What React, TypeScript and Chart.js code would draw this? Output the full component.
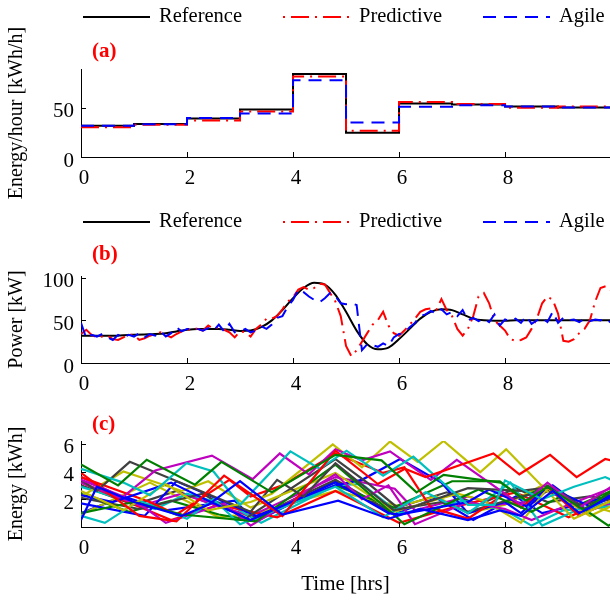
import React, { useEffect, useRef } from 'react';
import { Chart, registerables } from 'chart.js';

Chart.register(...registerables);

const FONT = "'Liberation Serif', 'DejaVu Serif', serif";

// ---------- shared ----------
const LEGEND_LABELS = ['Reference', 'Predictive', 'Agile'];
const PANEL_LABELS = ['(a)', '(b)', '(c)'];
const X_TICKS = [0, 2, 4, 6, 8];
const X_TITLE = 'Time [hrs]';

// ---------- panel (a): hourly energy ----------
const HOURS = [0, 1, 2, 3, 4, 5, 6, 7, 8, 9, 10];
const energyRef = [31.5, 33.5, 39, 48, 84, 24.5, 54, 53, 51, 50, 50];
const energyPred = [30, 32.5, 37, 46, 81.5, 26.5, 55.7, 53.5, 49.8, 51, 51];
const energyAgile = [31.5, 33, 39.5, 44, 77.5, 35, 50.7, 52.4, 51, 50, 50];
const A_Y_TICKS = [0, 50];
const A_Y_TITLE = 'Energy/hour [kWh/h]';

// ---------- panel (b): power ----------
const REF_TIME = [
  0, 0.2, 0.4, 0.6, 0.8, 1, 1.2, 1.4, 1.6, 1.8, 2, 2.2, 2.4, 2.6, 2.8, 3, 3.2, 3.4, 3.6, 3.8,
  4, 4.2, 4.4, 4.6, 4.8, 5, 5.2, 5.4, 5.6, 5.8, 6, 6.2, 6.4, 6.6, 6.8, 7, 7.2, 7.4, 7.6, 7.8,
  8, 8.2, 8.4, 8.6, 8.8, 9, 9.2, 9.4, 9.6, 9.8, 10,
];
const powerRef = [
  32, 32, 32, 32, 32.5, 33, 33.5, 34, 35, 37, 39, 40, 40, 40, 39, 37.5, 38, 42, 50, 62,
  76, 88, 94, 92, 80, 60, 38, 22, 16, 18, 28, 40, 52, 60, 63, 62, 57, 52, 50, 49.5,
  49.5, 50, 50, 50, 50, 50, 50, 50, 50, 50, 50,
];
const POWER_TIME = [
  0, 0.1, 0.2, 0.3, 0.4, 0.5, 0.6, 0.7, 0.8, 0.9,
  1, 1.1, 1.2, 1.3, 1.4, 1.5, 1.6, 1.7, 1.8, 1.9,
  2, 2.1, 2.2, 2.3, 2.4, 2.5, 2.6, 2.7, 2.8, 2.9,
  3, 3.1, 3.2, 3.3, 3.4, 3.5, 3.6, 3.7, 3.8, 3.9,
  4, 4.1, 4.2, 4.3, 4.4, 4.5, 4.6, 4.7, 4.8, 4.9,
  5, 5.1, 5.2, 5.3, 5.4, 5.5, 5.6, 5.7, 5.8, 5.9,
  6, 6.1, 6.2, 6.3, 6.4, 6.5, 6.6, 6.7, 6.8, 6.9,
  7, 7.1, 7.2, 7.3, 7.4, 7.5, 7.6, 7.7, 7.8, 7.9,
  8, 8.1, 8.2, 8.3, 8.4, 8.5, 8.6, 8.7, 8.8, 8.9,
  9, 9.1, 9.2, 9.3, 9.4, 9.5, 9.6, 9.7, 9.8, 9.9, 10,
];
const powerAgile = [
  47, 29, 33, 31, 34, 30, 27, 33, 30, 33,
  31, 35, 30, 34, 32, 37, 31, 35, 42, 37,
  40, 40, 40, 38, 41, 38, 45, 37, 46, 36,
  37, 40, 36, 38, 43, 40, 45, 53, 55, 66,
  74, 86, 83, 78, 74, 71, 76, 82, 78, 70,
  69, 70, 68, 15, 22, 21, 19, 23, 20, 30,
  34, 35, 42, 47, 55, 57, 61, 58, 63, 57,
  60, 55, 62, 50, 53, 49, 52, 48, 57, 44,
  51, 49, 52, 47, 55, 46, 50, 53, 48, 60,
  47, 53, 50, 51, 48, 52, 49, 51, 50, 52, 47,
];
const powerPred = [
  34, 39, 33, 30, 31, 32, 28, 27, 30, 33,
  33, 27, 29, 32, 34, 36, 33, 30, 34, 37,
  38, 41, 40, 38, 44, 40, 42, 39, 36, 30,
  37, 36, 31, 40, 45, 52, 52, 55, 63, 72,
  77, 86, 89, 86, 88, 93, 92, 82, 72, 55,
  20, 8, 15, 25, 35, 45, 50, 60, 44, 35,
  32, 38, 45, 52, 60, 63, 64, 62, 75, 62,
  55, 40, 32, 40, 55, 78, 82, 70, 50, 44,
  38, 28, 26, 27, 30, 40, 52, 70, 78, 74,
  58, 26, 25, 28, 35, 40, 50, 72, 88, 90, 85,
];
const B_Y_TICKS = [0, 50, 100];
const B_Y_TITLE = 'Power [kW]';

// ---------- panel (c): energy of individual units ----------
const evO1 = [[0, 2.6], [0.8, 1.2], [1.6, 3.1], [2.4, 1.2], [3.2, 1.8], [3.6, 2.4], [4.75, 5.95], [5.3, 4.3], [5.83, 6.16], [6.35, 4.7], [6.84, 6.2], [7.53, 3.95], [8.02, 5.6], [9.3, 0.6], [10, 1.9]];
const evO2 = [[0, 2.2], [0.8, 4.0], [1.9, 2.6], [2.4, 3.3], [3.2, 1.4], [4.8, 3.9], [5.9, 1.1], [7.1, 2.4], [7.6, 1.9], [8.3, 0.3], [8.8, 2.8], [9.6, 0.8], [10, 1.5]];
const evO3 = [[0, 0.9], [1.3, 3.2], [2.6, 0.7], [3.3, 1.0], [4.8, 2.6], [6.0, 1.5], [6.7, 2.2], [7.3, 1.0], [8.0, 1.6], [8.7, 3.0], [9.3, 1.9], [10, 1.1]];
const evR1 = [[0, 3.9], [1.1, 0.8], [1.8, 0.4], [2.7, 3.7], [3.8, 0.8], [4.8, 5.5], [5.6, 3.1], [6.11, 4.2], [6.5, 3.6], [7.78, 5.3], [8.27, 3.8], [8.85, 5.2], [9.35, 3.6], [9.89, 4.9], [10, 4.8]];
const evR2 = [[0, 3.6], [1.3, 1.8], [1.8, 0.9], [2.8, 3.4], [3.2, 2.2], [3.8, 3.0], [4.8, 5.3], [5.7, 3.9], [6.1, 4.3], [6.6, 1.4], [7.3, 0.6], [8.0, 2.4], [8.3, 1.4], [8.8, 2.9], [9.4, 0.8], [10, 1.9]];
const evR3 = [[0, 3.2], [1.7, 0.5], [2.6, 1.6], [3.7, 0.7], [4.8, 2.6], [6.0, 0.3], [7.2, 1.6], [8.2, 2.5], [9.2, 0.7], [10, 2.2]];
const evR4 = [[0, 1.0], [0.8, 2.2], [1.6, 1.2], [2.9, 1.9], [3.3, 0.4], [4.8, 3.3], [5.9, 0.9], [6.7, 2.1], [7.4, 0.5], [8.2, 2.2], [8.7, 1.0], [9.5, 1.7], [10, 2.3]];
const evG1 = [[0, 4.5], [0.7, 3.0], [1.24, 4.85], [2.15, 3.05], [2.65, 4.7], [3.6, 2.5], [4.8, 5.2], [5.67, 4.8], [6.33, 2.5], [6.84, 3.76], [7.92, 3.2], [8.4, 1.9], [8.8, 2.9], [9.5, 1.2], [10, 2.6]];
const evG2 = [[0, 1.0], [1.0, 1.8], [1.9, 0.9], [3.3, 0.4], [4.8, 4.5], [5.9, 0.9], [6.1, 0.2], [7.1, 2.0], [7.5, 2.7], [8.5, 1.1], [9.1, 2.3], [9.95, 0.1], [10, 0.2]];
const evG3 = [[0, 2.4], [0.9, 1.1], [1.7, 1.9], [2.6, 0.9], [3.2, 0.5], [4.8, 3.0], [5.9, 1.4], [7.0, 3.3], [7.9, 3.3], [8.3, 2.1], [8.8, 3.0], [9.4, 1.6], [10, 2.6]];
const evC1 = [[0, 4.2], [0.8, 3.2], [1.3, 2.3], [1.99, 4.6], [2.5, 4.0], [3.0, 1.6], [3.95, 5.45], [4.5, 4.2], [5.01, 5.5], [5.7, 3.7], [6.27, 5.07], [7.3, 1.6], [7.8, 1.6], [8.0, 3.36], [8.7, 2.0], [9.3, 2.9], [9.89, 3.6], [10, 3.4]];
const evC2 = [[0, 0.8], [0.45, 0.3], [1.1, 1.9], [2.0, 0.6], [2.5, 2.0], [3.0, 0.2], [4.8, 2.9], [5.7, 0.7], [6.5, 2.5], [7.3, 1.0], [8.1, 3.2], [8.7, 0.1], [9.4, 1.3], [10, 1.8]];
const evC3 = [[0, 2.9], [1.4, 1.3], [2.0, 2.4], [2.9, 1.4], [3.4, 0.3], [4.8, 3.0], [5.3, 3.1], [6.0, 1.0], [6.6, 1.3], [7.2, 1.9], [8.0, 1.2], [8.5, 0.1], [9.1, 1.2], [10, 1.5]];
const evM1 = [[0, 3.4], [0.8, 2.2], [1.4, 4.07], [2.47, 5.15], [3.24, 3.45], [3.75, 5.3], [4.3, 3.8], [4.8, 5.6], [5.3, 4.8], [5.83, 5.45], [6.6, 3.4], [7.09, 4.84], [8.3, 1.6], [8.8, 3.2], [9.4, 1.4], [10, 2.9]];
const evM2 = [[0, 3.2], [1.2, 1.4], [1.6, 0.3], [2.7, 1.7], [3.2, 0.1], [4.8, 3.8], [5.3, 2.0], [5.8, 3.0], [6.3, 0.2], [7.3, 1.8], [8.0, 1.3], [8.5, 0.5], [9.2, 1.6], [10, 2.8]];
const evM3 = [[0, 3.6], [1.1, 1.5], [1.9, 2.4], [2.6, 1.5], [3.2, 0.8], [4.8, 3.6], [5.92, 2.76], [6.3, 1.2], [7.3, 2.2], [7.8, 1.6], [8.4, 1.8], [8.8, 2.6], [9.6, 1.2], [10, 1.7]];
const evK1 = [[0, 3.4], [0.3, 2.6], [0.92, 4.7], [3.2, 1.1], [3.7, 3.4], [4.2, 2.2], [4.8, 4.6], [5.9, 1.2], [6.3, 1.5], [7.3, 2.8], [8.3, 2.6], [8.9, 2.9], [9.5, 1.3], [10, 2.5]];
const evK2 = [[0, 2.1], [1.1, 1.3], [2.3, 2.4], [3.1, 0.6], [4.8, 4.9], [5.4, 3.2], [6.0, 1.3], [6.8, 1.8], [7.3, 1.1], [8.3, 2.2], [8.8, 2.6], [9.4, 1.6], [10, 2.0]];
const evK3 = [[0, 3.0], [1.0, 1.6], [1.8, 2.6], [2.8, 1.2], [3.3, 0.7], [4.8, 3.4], [5.8, 1.2], [6.9, 2.5], [7.5, 1.6], [8.2, 2.8], [8.8, 1.8], [9.6, 2.2], [10, 2.0]];
const evB1 = [[0, 0.5], [0.3, 2.9], [1.0, 1.8], [1.9, 0.8], [2.4, 1.6], [3.0, 3.3], [3.8, 0.9], [4.85, 1.9], [5.8, 0.6], [6.4, 1.3], [7.3, 0.5], [7.9, 1.2], [8.3, 0.8], [8.9, 2.6], [9.4, 1.0], [10, 2.2]];
const evB2 = [[0, 2.3], [0.6, 1.8], [1.7, 3.2], [2.4, 1.9], [3.2, 0.5], [4.8, 3.2], [5.8, 1.0], [6.0, 0.9], [7.3, 1.8], [7.7, 2.7], [8.4, 1.5], [8.8, 2.9], [9.6, 1.5], [10, 2.3]];
const evB3 = [[0, 1.7], [1.2, 0.8], [1.8, 3.3], [2.9, 1.5], [3.3, 0.8], [4.8, 3.0], [5.3, 3.4], [6.02, 4.9], [6.8, 3.2], [7.3, 1.0], [8.0, 1.8], [8.3, 1.0], [8.9, 3.0], [9.5, 1.3], [10, 2.1]];

const EV_SERIES = [evB1, evG1, evR1, evC1, evM1, evO1, evK1, evB2, evG2, evR2, evC2, evM2, evO2, evK2, evB3, evG3, evR3, evC3, evM3, evO3, evK3, evR4];
const C_Y_TICKS = [2, 4, 6];
const C_Y_TITLE = 'Energy [kWh]';

// ---------- styles ----------
const MATLAB_COLORS = ['#0000ff', '#008000', '#ff0000', '#00bfbf', '#bf00bf', '#bfbf00', '#404040'];
const DASHDOT = [18, 6, 2, 6];
const DASHED = [13, 8];
const X_MAX = 9.98;
const Y_AXIS_W = 81;

const toPts = (xs: number[], ys: number[]) => xs.map((x, i) => ({ x, y: ys[i] }));

const decorPlugin = {
  id: 'decor',
  afterDraw(chart: any, _args: any, opts: any) {
    const { ctx, chartArea } = chart;
    const xs = chart.scales.x;
    const ys = chart.scales.y;
    ctx.save();
    // inward tick marks
    ctx.strokeStyle = '#000';
    ctx.lineWidth = 1;
    ctx.setLineDash([]);
    ctx.beginPath();
    xs.ticks.forEach((t: any) => {
      const px = Math.round(xs.getPixelForValue(t.value)) + 0.5;
      ctx.moveTo(px, chartArea.bottom);
      ctx.lineTo(px, chartArea.bottom - 5);
    });
    ys.ticks.forEach((t: any) => {
      const py = Math.round(ys.getPixelForValue(t.value)) + 0.5;
      ctx.moveTo(chartArea.left, py);
      ctx.lineTo(chartArea.left + 5, py);
    });
    ctx.stroke();
    // panel label
    ctx.fillStyle = '#ff0000';
    ctx.font = `bold 21px ${FONT}`;
    ctx.textBaseline = 'middle';
    ctx.textAlign = 'left';
    ctx.fillText(opts.panel, chartArea.left + 11, opts.panelY);
    // legend
    if (opts.legend) {
      chart.data.datasets.forEach((ds: any, i: number) => {
        const x0 = opts.legendX[i];
        ctx.beginPath();
        ctx.strokeStyle = ds.borderColor;
        ctx.lineWidth = ds.borderWidth;
        ctx.setLineDash(ds.borderDash || []);
        ctx.lineDashOffset = ds.borderDash && ds.borderDash.length === 4 ? 24 : 0;
        ctx.moveTo(x0, opts.legendY);
        ctx.lineTo(x0 + 67, opts.legendY);
        ctx.stroke();
        ctx.setLineDash([]);
        ctx.fillStyle = '#000';
        ctx.font = `20.5px ${FONT}`;
        ctx.fillText(ds.label, x0 + 76, opts.legendY);
      });
    }
    ctx.restore();
  },
};

function buildOptions(p: any) {
  const border = { display: true, color: '#000', width: 1 };
  return {
    responsive: false,
    animation: false,
    devicePixelRatio: 1,
    layout: { padding: { top: p.padTop, left: 0, right: 0, bottom: 0 } },
    plugins: {
      legend: { display: false },
      tooltip: { enabled: false },
      decor: p.decor,
    },
    scales: {
      x: {
        type: 'linear',
        min: 0,
        max: X_MAX,
        afterBuildTicks: (s: any) => { s.ticks = X_TICKS.map((v) => ({ value: v })); },
        afterFit: (s: any) => { s.height = p.xHeight; },
        grid: { display: false, drawTicks: false },
        border,
        ticks: {
          color: '#000', font: { family: FONT, size: 21 }, padding: 9, labelOffset: 3,
          maxRotation: 0, autoSkip: false, callback: (v: any) => String(v),
        },
        title: p.xTitle
          ? { display: true, text: p.xTitle, color: '#000', font: { family: FONT, size: 21 }, padding: { top: 0, bottom: 4 } }
          : { display: false },
      },
      y: {
        type: 'linear',
        min: p.yMin,
        max: p.yMax,
        afterBuildTicks: (s: any) => { s.ticks = p.yTicks.map((v: number) => ({ value: v })); },
        afterFit: (s: any) => { s.width = Y_AXIS_W; },
        grid: { display: false, drawTicks: false },
        border,
        ticks: { color: '#000', font: { family: FONT, size: 21 }, padding: 7, labelOffset: 4, callback: (v: any) => String(v) },
        title: { display: true, text: p.yTitle, color: '#000', font: { family: FONT, size: 20 }, padding: { top: 5, bottom: 0 } },
      },
    },
  };
}

export default function App() {
  const refA = useRef<HTMLCanvasElement>(null);
  const refB = useRef<HTMLCanvasElement>(null);
  const refC = useRef<HTMLCanvasElement>(null);

  useEffect(() => {
    const common = { pointRadius: 0, borderWidth: 2, fill: false };
    const chartA = new Chart(refA.current as any, {
      type: 'line',
      data: {
        datasets: [
          { ...common, label: LEGEND_LABELS[0], data: toPts(HOURS, energyRef), borderColor: '#000000', stepped: 'before', order: 2 },
          { ...common, label: LEGEND_LABELS[1], data: toPts(HOURS, energyPred), borderColor: '#ff0000', borderDash: DASHDOT, stepped: 'before', order: 1 },
          { ...common, label: LEGEND_LABELS[2], data: toPts(HOURS, energyAgile), borderColor: '#0000ff', borderDash: DASHED, stepped: 'before', order: 0 },
        ],
      },
      options: buildOptions({
        padTop: 69, xHeight: 43, yMin: 0, yMax: 89, yTicks: A_Y_TICKS, yTitle: A_Y_TITLE,
        decor: { panel: PANEL_LABELS[0], panelY: 52, legend: true, legendY: 17, legendX: [83, 283, 483] },
      }) as any,
      plugins: [decorPlugin],
    } as any);

    const chartB = new Chart(refB.current as any, {
      type: 'line',
      data: {
        datasets: [
          { ...common, label: LEGEND_LABELS[0], data: toPts(REF_TIME, powerRef), borderColor: '#000000', cubicInterpolationMode: 'monotone', order: 2 },
          { ...common, label: LEGEND_LABELS[1], data: toPts(POWER_TIME, powerPred), borderColor: '#ff0000', borderDash: DASHDOT, order: 1 },
          { ...common, label: LEGEND_LABELS[2], data: toPts(POWER_TIME, powerAgile), borderColor: '#0000ff', borderDash: DASHED, order: 0 },
        ],
      },
      options: buildOptions({
        padTop: 76, xHeight: 37, yMin: 0, yMax: 102, yTicks: B_Y_TICKS, yTitle: B_Y_TITLE,
        decor: { panel: PANEL_LABELS[1], panelY: 55, legend: true, legendY: 22, legendX: [83, 283, 483] },
      }) as any,
      plugins: [decorPlugin],
    } as any);

    const chartC = new Chart(refC.current as any, {
      type: 'line',
      data: {
        datasets: EV_SERIES.map((s, i) => ({
          ...common,
          borderWidth: 2.2,
          label: 'unit ' + (i + 1),
          data: s.map(([x, y]) => ({ x, y })),
          borderColor: MATLAB_COLORS[i % MATLAB_COLORS.length],
        })),
      },
      options: buildOptions({
        padTop: 41, xHeight: 74, yMin: 0, yMax: 6.2, yTicks: C_Y_TICKS, yTitle: C_Y_TITLE, xTitle: X_TITLE,
        decor: { panel: PANEL_LABELS[2], panelY: 25, legend: false },
      }) as any,
      plugins: [decorPlugin],
    } as any);

    return () => {
      chartA.destroy();
      chartB.destroy();
      chartC.destroy();
    };
  }, []);

  return (
    <div style={{ position: 'absolute', left: 0, top: 0, width: 610, height: 601, background: '#fff' }}>
      <canvas ref={refA} width={610} height={200} style={{ position: 'absolute', left: 0, top: 0 }} />
      <canvas ref={refB} width={610} height={200} style={{ position: 'absolute', left: 0, top: 200 }} />
      <canvas ref={refC} width={610} height={201} style={{ position: 'absolute', left: 0, top: 400 }} />
    </div>
  );
}
